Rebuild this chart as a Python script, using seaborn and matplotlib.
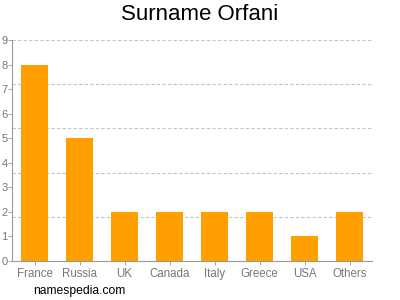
import matplotlib
matplotlib.use("Agg")
import matplotlib.pyplot as plt
import seaborn as sns
import pandas as pd

countries = ["France", "Russia", "UK", "Canada", "Italy", "Greece", "USA", "Others"]
counts = [8, 5, 2, 2, 2, 2, 1, 2]
y_ticks = [0, 1, 2, 3, 4, 5, 6, 7, 8, 9]
grid_levels = [1.8, 3.6, 5.4, 7.2, 9]

sns.set_style("white")
plt.rcParams['font.family'] = ['Liberation Sans', 'DejaVu Sans']

df = pd.DataFrame({"country": countries, "count": counts})

fig = plt.figure(figsize=(4, 3), dpi=100)
ax = fig.add_axes([0.03, 0.13, 0.90, 0.7367])

sns.barplot(data=df, x="country", y="count", color="#FFA000", saturation=1,
            width=0.62, linewidth=0, ax=ax, zorder=3)

for g in grid_levels:
    ax.axhline(g, color="#c4c4c4", linestyle=(0, (3, 2)), linewidth=0.8, zorder=1)

ax.set_xlim(-0.5, 7.5)
ax.set_ylim(0, 9)
ax.set_yticks(y_ticks)
ax.set_xlabel("")
ax.set_ylabel("")
for s in ["top", "right"]:
    ax.spines[s].set_visible(False)
for s in ["left", "bottom"]:
    ax.spines[s].set_color("#999999")
    ax.spines[s].set_linewidth(0.8)
ax.tick_params(axis="y", labelsize=8, colors="#999999", labelcolor="#777777",
               length=3, pad=0, width=0.6, direction="out", left=True)
ax.tick_params(axis="x", labelsize=8.3, colors="#999999", labelcolor="#777777",
               length=3, pad=2, width=0.6, bottom=True)

fig.text(0.5, 0.952, "Surname Orfani", ha="center", va="center", fontsize=16, color="#000000")
fig.text(0.083, 0.03, "namespedia.com", ha="left", va="center", fontsize=8.7, color="#000000")

fig.savefig("out.png", dpi=100)
